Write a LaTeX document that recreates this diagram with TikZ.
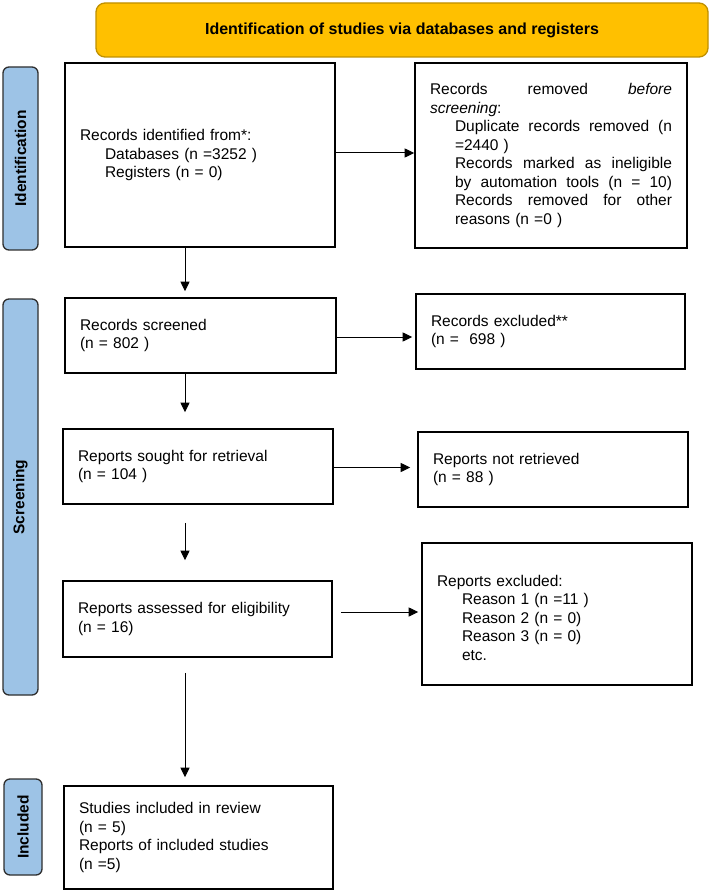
\documentclass[tikz,border=0pt]{standalone}
\usepackage{fontspec}
\setmainfont{Liberation Sans}
\usetikzlibrary{arrows.meta}
\definecolor{hdrfill}{HTML}{FFC000}
\definecolor{hdrline}{HTML}{BF9000}
\definecolor{sidefill}{HTML}{9DC3E6}
\definecolor{sideline}{HTML}{2E2E2E}
\newcommand\boxfont{\fontsize{15.5}{18.5}\selectfont}
\newcommand\ind{\hspace*{25pt}}
\newcommand\jline[2]{\hbox to #1{#2}}
\begin{document}
\begin{tikzpicture}[x=1pt,y=-1pt,
  box/.style={draw=black, line width=1.6pt, inner xsep=15pt, inner ysep=0pt,
              align=left, font=\boxfont, anchor=center},
  side/.style={draw=sideline, fill=sidefill, line width=1.3pt, rounded corners=6pt,
               rotate=90, font=\boxfont\bfseries, inner sep=0pt, anchor=center},
  hdr/.style={draw=hdrline, fill=hdrfill, line width=1.3pt, rounded corners=9pt,
              font=\fontsize{16}{19}\selectfont\bfseries, inner sep=0pt, anchor=center},
  arr/.style={line width=1pt, -{Triangle[length=9.5pt,width=9pt]}}]
\useasboundingbox (0,0) rectangle (710,890);

% header
\node[hdr, minimum width=612pt, minimum height=54pt] (hdr) at (402,30)
  {Identification of studies via databases and registers};

% side bars
\node[side, minimum width=183pt, minimum height=35pt] (sid) at (20.5,158.5) {Identification};
\node[side, minimum width=396pt, minimum height=35pt] (ssc) at (20.5,497) {Screening};
\node[side, minimum width=96pt, minimum height=38pt] (sin) at (23,827) {Included};

% left column
\node[box, minimum width=270pt, minimum height=184pt, text width=240pt] (idb) at (200,155)
  {Records identified from*:\\
   \ind Databases (n =3252 )\\
   \ind Registers (n = 0)};
\node[box, minimum width=271pt, minimum height=75pt, text width=241pt] (scr) at (200.5,335.5)
  {Records screened\\(n = 802 )};
\node[box, minimum width=270pt, minimum height=75pt, text width=240pt] (sou) at (198,466.5)
  {Reports sought for retrieval\\(n = 104 )};
\node[box, minimum width=269pt, minimum height=76pt, text width=239pt] (ass) at (197.5,619)
  {Reports assessed for eligibility\\(n = 16)};
\node[box, minimum width=269pt, minimum height=103pt, text width=239pt] (inc) at (198.5,837.5)
  {Studies included in review\\(n = 5)\\Reports of included studies\\(n =5)};

% right column
\node[box, minimum width=272pt, minimum height=185pt, text width=242pt] (rem) at (551,155.5)
  {\jline{242pt}{Records\hfill removed\hfill\textit{before}}\\
   \textit{screening}:\\
   \ind\jline{217pt}{Duplicate\hfill records\hfill removed\hfill (n}\\
   \ind =2440 )\\
   \ind\jline{217pt}{Records\hfill marked\hfill as\hfill ineligible}\\
   \ind\jline{217pt}{by\hfill automation\hfill tools\hfill (n\hfill =\hfill 10)}\\
   \ind\jline{217pt}{Records\hfill removed\hfill for\hfill other}\\
   \ind reasons (n =0 )};
\node[box, minimum width=269pt, minimum height=75pt, text width=239pt] (exc) at (550.5,331.5)
  {Records excluded**\\(n = \ 698 )};
\node[box, minimum width=270pt, minimum height=75pt, text width=240pt] (ret) at (553,469.5)
  {Reports not retrieved\\(n = 88 )};
\node[box, minimum width=270pt, minimum height=142pt, text width=240pt] (rex) at (557,614)
  {\mbox{}\\Reports excluded:\\
   \ind Reason 1 (n =11 )\\
   \ind Reason 2 (n = 0)\\
   \ind Reason 3 (n = 0)\\
   \ind etc.};

% connectors
\coordinate (cx) at (185,0);
\draw[arr] ([yshift=2pt]idb.east) -- ([yshift=2pt]idb.east -| rem.west);
\draw[arr, shorten >=3pt] ([yshift=-1.5pt]scr.east) -- ([yshift=-1.5pt]scr.east -| exc.west);
\draw[arr, shorten >=7pt] ([yshift=-1pt]sou.east) -- ([yshift=-1pt]sou.east -| ret.west);
\draw[arr, shorten <=8pt, shorten >=3pt] ([yshift=7pt]ass.east) -- ([yshift=7pt]ass.east -| rex.west);

\draw[arr, shorten >=6pt] (idb.south -| cx) -- (scr.north -| cx);
\draw[arr, shorten >=16pt] (scr.south -| cx) -- (sou.north -| cx);
\draw[arr, shorten <=18pt, shorten >=20pt] (sou.south -| cx) -- (ass.north -| cx);
\draw[arr, shorten <=15pt, shorten >=8pt] (ass.south -| cx) -- (inc.north -| cx);
\end{tikzpicture}
\end{document}
